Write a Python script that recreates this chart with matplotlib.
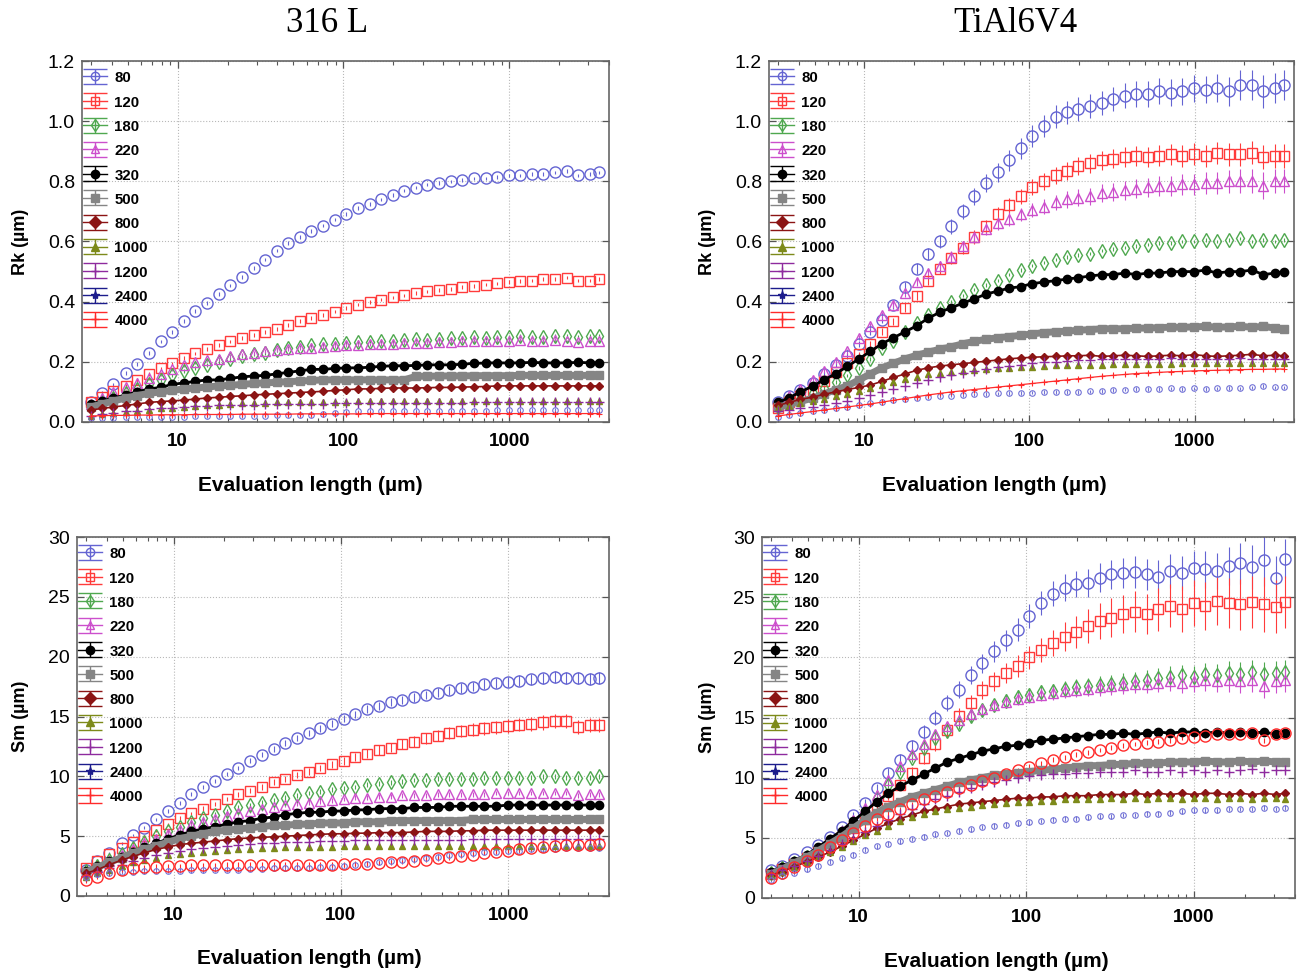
import numpy as np
import matplotlib
matplotlib.use("Agg")
import matplotlib.pyplot as plt
from matplotlib.lines import Line2D
from matplotlib.collections import LineCollection
from matplotlib.container import ErrorbarContainer
from matplotlib.ticker import FixedLocator, LogLocator, NullFormatter, FuncFormatter

plt.rcParams['font.family'] = ['Liberation Sans', 'DejaVu Sans']

# ---------------- data ----------------
LABELS = ['80', '120', '180', '220', '320', '500', '800', '1000', '1200', '2400', '4000']
X = [3.0, 3.5, 4.1, 4.9, 5.7, 6.7, 7.9, 9.3, 10.9, 12.8, 15.0, 17.7, 20.8, 24.4, 28.7,
     33.7, 39.6, 46.5, 54.6, 64.2, 75.4, 88.6, 104, 122, 144, 169, 198, 233, 274, 321,
     378, 444, 521, 612, 720, 845, 993, 1167, 1371, 1610, 1892, 2223, 2612, 3069, 3500]

# Rk, 316 L
rk316_80 = [0.068,0.097,0.125,0.162,0.193,0.23,0.268,0.30,0.335,0.368, 0.396,0.425,0.454,0.483,0.512,0.54,0.57,0.596,0.615,0.634, 0.653,0.673,0.692,0.711,0.725,0.74,0.754,0.769,0.779,0.789, 0.794,0.80,0.805,0.81,0.81,0.815,0.82,0.82,0.825,0.825, 0.83,0.835,0.82,0.825,0.83]
rk316_120 = [0.065,0.083,0.102,0.121,0.14,0.16,0.178,0.195,0.213,0.228, 0.243,0.255,0.268,0.279,0.289,0.299,0.31,0.323,0.335,0.346, 0.356,0.367,0.379,0.39,0.399,0.407,0.414,0.421,0.428,0.434, 0.438,0.443,0.448,0.453,0.457,0.461,0.465,0.468,0.47,0.476, 0.475,0.48,0.47,0.47,0.475]
rk316_180 = [0.05,0.065,0.08,0.095,0.11,0.125,0.14,0.155,0.17,0.18, 0.19,0.20,0.21,0.22,0.225,0.23,0.24,0.245,0.25,0.255, 0.258,0.26,0.262,0.265,0.267,0.27,0.27,0.272,0.275,0.274, 0.276,0.278,0.28,0.282,0.28,0.282,0.283,0.285,0.284,0.283, 0.286,0.285,0.284,0.285,0.287]
rk316_220 = [0.06,0.08,0.10,0.115,0.13,0.145,0.16,0.175,0.19,0.20, 0.205,0.21,0.22,0.225,0.23,0.235,0.24,0.243,0.245,0.247, 0.25,0.252,0.255,0.256,0.258,0.26,0.26,0.262,0.264,0.262, 0.265,0.266,0.268,0.27,0.268,0.27,0.27,0.272,0.27,0.27, 0.272,0.268,0.265,0.27,0.27]
rk316_320 = [0.06,0.07,0.08,0.09,0.10,0.11,0.115,0.125,0.13,0.135, 0.14,0.14,0.145,0.15,0.153,0.155,0.16,0.165,0.17,0.175, 0.175,0.178,0.18,0.18,0.182,0.185,0.187,0.187,0.188,0.19, 0.19,0.19,0.192,0.195,0.196,0.197,0.196,0.197,0.198,0.197, 0.196,0.197,0.198,0.197,0.197]
rk316_500 = [0.05,0.06,0.07,0.08,0.088,0.095,0.10,0.105,0.11,0.113, 0.116,0.12,0.122,0.125,0.128,0.13,0.132,0.134,0.136,0.138, 0.14,0.14,0.14,0.14,0.14,0.14,0.14,0.14,0.152,0.152, 0.153,0.153,0.153,0.154,0.154,0.154,0.154,0.155,0.155,0.155, 0.155,0.155,0.155,0.155,0.155]
rk316_800 = [0.04,0.045,0.05,0.055,0.06,0.065,0.068,0.07,0.073,0.076, 0.08,0.082,0.085,0.087,0.09,0.092,0.094,0.096,0.098,0.10, 0.102,0.105,0.107,0.11,0.11,0.112,0.113,0.113,0.113,0.114, 0.115,0.115,0.116,0.117,0.118,0.12,0.12,0.12,0.12,0.12, 0.12,0.12,0.12,0.12,0.12]
rk316_1000 = [0.02,0.025,0.03,0.033,0.037,0.04,0.045,0.048,0.05,0.052, 0.055,0.057,0.06,0.062,0.063,0.064,0.065,0.066,0.067,0.067, 0.068,0.068,0.068,0.069,0.069,0.069,0.07,0.07,0.07,0.07, 0.07,0.07,0.07,0.07,0.07,0.07,0.07,0.07,0.07,0.07, 0.07,0.07,0.07,0.07,0.07]
rk316_1200 = [0.02,0.025,0.03,0.035,0.038,0.042,0.045,0.047,0.05,0.052, 0.054,0.055,0.056,0.057,0.058,0.059,0.06,0.06,0.06,0.061, 0.061,0.062,0.062,0.062,0.063,0.063,0.063,0.063,0.064,0.064, 0.064,0.064,0.064,0.065,0.065,0.065,0.065,0.065,0.065,0.065, 0.065,0.065,0.065,0.065,0.065]
rk316_2400 = [0.012,0.013,0.014,0.015,0.016,0.017,0.017,0.018,0.018,0.019, 0.019,0.02,0.02,0.02,0.021,0.021,0.022,0.022,0.023,0.024, 0.026,0.03,0.034,0.035,0.036,0.036,0.036,0.037,0.037,0.037, 0.037,0.038,0.038,0.038,0.038,0.039,0.039,0.039,0.039,0.04, 0.04,0.04,0.04,0.04,0.04]
rk316_4000 = [0.02,0.021,0.022,0.022,0.023,0.023,0.024,0.024,0.024,0.025, 0.025,0.025,0.025,0.026,0.026,0.026,0.026,0.026,0.027,0.027, 0.027,0.027,0.027,0.027,0.028,0.028,0.028,0.028,0.028,0.028, 0.028,0.028,0.028,0.028,0.028,0.028,0.028,0.028,0.028,0.028, 0.028,0.028,0.028,0.028,0.028]

# Rk, TiAl6V4
rkti_80 = [0.065,0.085,0.105,0.13,0.16,0.19,0.22,0.26,0.30,0.34, 0.39,0.45,0.51,0.56,0.60,0.65,0.70,0.75,0.795,0.83, 0.87,0.91,0.95,0.985,1.015,1.03,1.04,1.05,1.06,1.075, 1.085,1.09,1.09,1.10,1.095,1.10,1.11,1.105,1.11,1.10, 1.12,1.12,1.10,1.11,1.12]
rkti_120 = [0.047,0.065,0.085,0.105,0.135,0.165,0.195,0.225,0.26,0.30, 0.335,0.38,0.42,0.47,0.51,0.545,0.58,0.615,0.65,0.69, 0.72,0.75,0.78,0.80,0.82,0.835,0.85,0.86,0.87,0.875, 0.88,0.885,0.88,0.885,0.89,0.885,0.89,0.885,0.895,0.89, 0.89,0.895,0.88,0.885,0.885]
rkti_180 = [0.05,0.063,0.078,0.095,0.113,0.133,0.155,0.18,0.21,0.245, 0.27,0.30,0.33,0.355,0.38,0.40,0.42,0.44,0.455,0.47, 0.49,0.505,0.52,0.53,0.54,0.548,0.555,0.56,0.57,0.575, 0.58,0.585,0.59,0.595,0.595,0.60,0.60,0.605,0.60,0.605, 0.61,0.60,0.605,0.60,0.605]
rkti_220 = [0.06,0.085,0.11,0.14,0.17,0.20,0.235,0.28,0.32,0.355, 0.39,0.43,0.465,0.495,0.52,0.55,0.585,0.615,0.64,0.66, 0.675,0.69,0.705,0.715,0.73,0.74,0.745,0.75,0.76,0.765, 0.77,0.775,0.78,0.785,0.785,0.79,0.79,0.795,0.795,0.80, 0.80,0.80,0.785,0.80,0.80]
rkti_320 = [0.065,0.08,0.10,0.12,0.14,0.16,0.185,0.21,0.235,0.26, 0.28,0.30,0.32,0.345,0.365,0.38,0.395,0.41,0.425,0.435, 0.445,0.45,0.46,0.465,0.47,0.475,0.48,0.485,0.49,0.49, 0.495,0.49,0.495,0.495,0.50,0.50,0.50,0.505,0.495,0.50, 0.50,0.505,0.49,0.495,0.50]
rkti_500 = [0.05,0.058,0.068,0.08,0.093,0.107,0.12,0.14,0.16,0.18, 0.195,0.21,0.222,0.232,0.242,0.25,0.26,0.268,0.275,0.28, 0.284,0.288,0.293,0.297,0.30,0.302,0.305,0.307,0.31,0.31, 0.31,0.312,0.312,0.314,0.315,0.315,0.316,0.318,0.315,0.316, 0.318,0.315,0.318,0.312,0.31]
rkti_800 = [0.055,0.065,0.075,0.083,0.092,0.10,0.108,0.115,0.123,0.135, 0.148,0.16,0.172,0.18,0.186,0.19,0.194,0.198,0.202,0.206, 0.21,0.213,0.215,0.217,0.218,0.22,0.22,0.222,0.218,0.22, 0.222,0.22,0.218,0.22,0.222,0.22,0.224,0.22,0.218,0.22, 0.222,0.225,0.22,0.222,0.22]
rkti_1000 = [0.045,0.053,0.062,0.07,0.078,0.086,0.094,0.103,0.112,0.122, 0.132,0.142,0.15,0.158,0.163,0.167,0.17,0.173,0.176,0.178, 0.18,0.182,0.184,0.186,0.188,0.19,0.19,0.19,0.191,0.192, 0.192,0.193,0.193,0.194,0.194,0.195,0.195,0.195,0.195,0.195, 0.195,0.195,0.195,0.195,0.195]
rkti_1200 = [0.035,0.04,0.045,0.05,0.057,0.063,0.07,0.08,0.09,0.10, 0.11,0.12,0.13,0.14,0.15,0.157,0.163,0.17,0.176,0.182, 0.186,0.19,0.195,0.198,0.20,0.202,0.205,0.207,0.208,0.21, 0.21,0.211,0.21,0.21,0.212,0.21,0.21,0.211,0.21,0.21, 0.212,0.21,0.21,0.211,0.21]
rkti_2400 = [0.018,0.023,0.03,0.035,0.04,0.045,0.05,0.057,0.063,0.068, 0.072,0.076,0.08,0.083,0.086,0.088,0.09,0.092,0.094,0.095, 0.096,0.097,0.098,0.099,0.10,0.10,0.10,0.102,0.104,0.106, 0.108,0.11,0.11,0.11,0.112,0.11,0.112,0.11,0.112,0.114, 0.112,0.115,0.12,0.115,0.115]
rkti_4000 = [0.02,0.025,0.03,0.035,0.04,0.045,0.05,0.055,0.06,0.066, 0.072,0.078,0.084,0.09,0.095,0.10,0.104,0.108,0.112,0.116, 0.12,0.124,0.128,0.132,0.136,0.14,0.144,0.148,0.152,0.155, 0.158,0.161,0.163,0.165,0.167,0.168,0.17,0.171,0.172,0.173, 0.174,0.175,0.175,0.176,0.176]

# Sm, 316 L
sm316_80 = [2.2,2.9,3.6,4.4,5.1,5.7,6.4,7.1,7.8,8.5, 9.1,9.6,10.2,10.7,11.3,11.8,12.3,12.8,13.2,13.6, 14.0,14.4,14.8,15.2,15.6,15.9,16.2,16.4,16.6,16.8, 17.0,17.2,17.4,17.5,17.7,17.8,17.9,18.0,18.1,18.2, 18.3,18.2,18.2,18.1,18.2]
sm316_120 = [2.3,2.9,3.5,4.0,4.5,5.0,5.5,6.0,6.5,6.9, 7.3,7.7,8.1,8.5,8.8,9.1,9.5,9.8,10.1,10.4, 10.7,11.0,11.3,11.6,11.9,12.2,12.4,12.7,12.9,13.2, 13.4,13.6,13.8,13.9,14.0,14.1,14.2,14.3,14.4,14.5, 14.6,14.6,14.1,14.3,14.3]
sm316_180 = [2.1,2.5,3.0,3.5,4.0,4.5,5.0,5.4,5.8,6.2, 6.5,6.8,7.1,7.4,7.6,7.8,8.0,8.2,8.4,8.6, 8.7,8.9,9.0,9.1,9.3,9.4,9.5,9.6,9.7,9.7, 9.8,9.8,9.8,9.8,9.9,9.9,9.9,9.9,9.9,10.0, 10.0,9.9,9.9,9.9,10.0]
sm316_220 = [2.0,2.4,2.9,3.4,3.9,4.4,4.8,5.2,5.5,5.9, 6.2,6.4,6.7,6.9,7.1,7.3,7.4,7.6,7.7,7.8, 7.9,8.0,8.1,8.2,8.2,8.3,8.3,8.4,8.4,8.4, 8.5,8.5,8.5,8.5,8.5,8.6,8.6,8.6,8.6,8.6, 8.6,8.6,8.4,8.5,8.5]
sm316_320 = [2.1,2.5,2.9,3.3,3.7,4.1,4.4,4.8,5.1,5.4, 5.6,5.8,6.0,6.2,6.3,6.5,6.6,6.8,6.9,7.0, 7.0,7.1,7.1,7.2,7.2,7.3,7.3,7.3,7.4,7.4, 7.4,7.5,7.5,7.5,7.5,7.5,7.6,7.6,7.6,7.6, 7.6,7.6,7.6,7.6,7.6]
sm316_500 = [2.0,2.4,2.8,3.2,3.6,3.9,4.2,4.5,4.8,5.0, 5.2,5.4,5.5,5.6,5.7,5.8,5.9,5.9,6.0,6.0, 6.1,6.1,6.1,6.2,6.2,6.2,6.3,6.3,6.3,6.3, 6.3,6.3,6.3,6.4,6.4,6.4,6.4,6.4,6.4,6.4, 6.4,6.4,6.4,6.4,6.4]
sm316_800 = [1.9,2.2,2.6,3.0,3.3,3.6,3.9,4.1,4.3,4.4, 4.5,4.6,4.7,4.8,4.85,4.9,4.95,5.0,5.05,5.1, 5.15,5.2,5.2,5.25,5.25,5.3,5.3,5.3,5.35,5.4, 5.4,5.4,5.45,5.45,5.5,5.5,5.5,5.5,5.5,5.5, 5.5,5.5,5.5,5.5,5.5]
sm316_1000 = [1.6,1.9,2.2,2.5,2.8,3.0,3.2,3.4,3.5,3.6, 3.7,3.8,3.85,3.9,3.95,4.0,4.05,4.1,4.1,4.1, 4.1,4.1,4.15,4.15,4.15,4.15,4.2,4.2,4.2,4.2, 4.2,4.2,4.2,4.2,4.2,4.2,4.2,4.2,4.2,4.2, 4.2,4.2,4.2,4.2,4.2]
sm316_1200 = [1.7,2.0,2.3,2.6,2.9,3.2,3.4,3.6,3.8,3.9, 4.0,4.1,4.2,4.3,4.35,4.4,4.45,4.5,4.5,4.55, 4.6,4.6,4.6,4.65,4.65,4.65,4.7,4.7,4.7,4.7, 4.7,4.7,4.7,4.75,4.75,4.75,4.75,4.75,4.75,4.75, 4.75,4.75,4.75,4.75,4.75]
sm316_2400 = [1.6,1.8,1.9,2.0,2.0,2.05,2.1,2.1,2.1,2.15, 2.15,2.2,2.2,2.2,2.25,2.25,2.3,2.3,2.3,2.35, 2.4,2.4,2.5,2.6,2.7,2.8,2.9,3.0,3.1,3.2, 3.3,3.4,3.5,3.6,3.7,3.7,3.8,3.8,3.9,3.9, 3.9,4.0,4.0,4.0,4.0]
sm316_4000 = [1.3,1.6,1.9,2.2,2.3,2.4,2.45,2.5,2.5,2.55, 2.55,2.55,2.6,2.6,2.6,2.6,2.6,2.6,2.6,2.6, 2.6,2.6,2.65,2.7,2.7,2.75,2.8,2.85,2.95,3.05, 3.15,3.25,3.35,3.45,3.6,3.7,3.8,3.9,4.0,4.1, 4.2,4.25,4.3,4.3,4.35]

# Sm, TiAl6V4
smti_80 = [2.3,2.7,3.2,3.8,4.4,5.1,5.9,6.9,7.9,9.1, 10.4,11.5,12.6,13.8,15.0,16.2,17.3,18.5,19.5,20.5, 21.4,22.3,23.4,24.5,25.3,25.8,26.1,26.2,26.6,26.9, 27.0,27.1,26.9,26.7,27.2,27.0,27.4,27.3,27.2,27.6, 27.8,27.5,28.1,26.6,28.2]
smti_120 = [2.0,2.4,2.8,3.3,3.8,4.4,5.1,5.8,6.6,7.5, 8.5,9.4,10.4,11.6,12.8,14.0,15.1,16.2,17.3,18.0, 18.7,19.3,20.0,20.6,21.2,21.7,22.1,22.6,23.0,23.3, 23.6,23.8,23.6,24.0,24.3,24.0,24.5,24.3,24.7,24.5, 24.4,24.6,24.4,24.2,24.6]
smti_180 = [2.1,2.5,2.9,3.4,4.0,4.6,5.3,6.1,7.0,8.3, 9.4,10.5,11.6,12.5,13.3,13.9,14.5,15.1,15.6,16.0, 16.4,16.7,16.9,17.1,17.2,17.4,17.5,17.6,17.7,17.8, 17.9,18.0,18.1,18.3,18.4,18.5,18.4,18.6,18.5,18.7, 18.6,18.8,18.6,18.7,18.8]
smti_220 = [2.1,2.5,2.9,3.5,4.1,4.8,5.6,6.5,7.5,8.6, 9.8,11.0,12.0,12.8,13.6,14.3,14.8,15.3,15.7,16.0, 16.3,16.5,16.7,16.9,17.0,17.2,17.3,17.4,17.5,17.6, 17.7,17.8,17.8,17.9,18.0,17.9,18.0,18.1,18.0,18.1, 18.0,18.1,17.6,18.0,18.1]
smti_320 = [2.2,2.6,3.1,3.6,4.2,4.9,5.6,6.4,7.2,8.0, 8.7,9.3,9.8,10.3,10.8,11.3,11.6,11.9,12.2,12.4, 12.6,12.7,12.9,13.1,13.2,13.3,13.4,13.5,13.6,13.6, 13.7,13.6,13.7,13.8,13.7,13.8,13.8,13.7,13.8,13.7, 13.8,13.7,13.8,13.6,13.7]
smti_500 = [2.0,2.4,2.9,3.4,3.9,4.5,5.1,5.8,6.5,7.1, 7.6,8.0,8.4,8.7,9.0,9.3,9.6,9.8,10.0,10.2, 10.3,10.4,10.5,10.6,10.7,10.8,10.9,11.0,11.0,11.1, 11.1,11.2,11.2,11.2,11.3,11.3,11.3,11.4,11.3,11.3, 11.4,11.3,11.4,11.3,11.3]
smti_800 = [1.9,2.2,2.6,3.0,3.4,3.8,4.3,4.8,5.3,5.8, 6.2,6.6,6.9,7.2,7.4,7.6,7.8,7.9,8.0,8.1, 8.2,8.3,8.3,8.4,8.4,8.5,8.5,8.5,8.6,8.6, 8.6,8.7,8.6,8.7,8.6,8.7,8.6,8.7,8.7,8.6, 8.7,8.6,8.7,8.6,8.7]
smti_1000 = [1.9,2.2,2.6,3.0,3.4,3.8,4.2,4.7,5.2,5.6, 6.0,6.4,6.7,7.0,7.2,7.4,7.5,7.6,7.7,7.8, 7.9,8.0,8.0,8.1,8.1,8.2,8.2,8.2,8.2,8.3, 8.2,8.3,8.2,8.3,8.3,8.2,8.3,8.3,8.2,8.3, 8.3,8.2,8.3,8.3,8.2]
smti_1200 = [2.0,2.3,2.7,3.1,3.5,4.0,4.5,5.0,5.5,6.0, 6.5,7.0,7.4,7.8,8.2,8.5,8.8,9.1,9.4,9.6, 9.8,10.0,10.1,10.2,10.3,10.3,10.4,10.4,10.5,10.5, 10.5,10.6,10.5,10.5,10.6,10.5,10.6,10.5,10.6,10.5, 10.6,10.7,10.5,10.6,10.6]
smti_2400 = [1.5,1.8,2.1,2.4,2.7,3.0,3.3,3.6,4.0,4.3, 4.5,4.7,4.9,5.1,5.3,5.4,5.6,5.7,5.9,6.0, 6.1,6.2,6.3,6.4,6.5,6.6,6.6,6.7,6.8,6.8, 6.9,6.9,7.0,7.0,7.1,7.2,7.3,7.3,7.3,7.4, 7.4,7.4,7.5,7.4,7.5]
smti_4000 = [1.7,2.1,2.6,3.1,3.6,4.2,4.8,5.4,6.0,6.6, 7.0,7.4,7.8,8.2,8.5,8.8,9.1,9.4,9.7,10.0, 10.3,10.6,10.9,11.2,11.5,11.7,11.9,12.1,12.3,12.5, 12.7,12.8,12.9,13.0,13.1,13.3,13.4,13.5,13.6,13.6, 13.6,13.7,13.1,13.6,13.7]

# error bars (standard deviations)
err_rkti_80 = [0.005,0.005,0.006,0.006,0.007,0.008,0.009,0.010,0.011,0.012, 0.014,0.016,0.018,0.020,0.022,0.024,0.026,0.028,0.030,0.032, 0.034,0.035,0.036,0.037,0.038,0.038,0.039,0.040,0.040,0.040, 0.041,0.042,0.042,0.043,0.044,0.045,0.045,0.046,0.047,0.048, 0.050,0.050,0.055,0.050,0.050]
err_rkti_120 = [0.004,0.004,0.005,0.005,0.006,0.007,0.008,0.009,0.010,0.011, 0.012,0.014,0.015,0.016,0.018,0.019,0.020,0.022,0.023,0.024, 0.025,0.026,0.027,0.028,0.029,0.030,0.030,0.031,0.032,0.032, 0.033,0.034,0.034,0.035,0.035,0.036,0.036,0.037,0.037,0.038, 0.038,0.039,0.040,0.040,0.040]
err_rkti_220 = [0.004,0.004,0.005,0.005,0.006,0.007,0.008,0.009,0.010,0.011, 0.012,0.013,0.014,0.015,0.016,0.017,0.018,0.019,0.020,0.021, 0.022,0.023,0.024,0.025,0.026,0.027,0.028,0.029,0.030,0.030, 0.031,0.032,0.032,0.033,0.034,0.035,0.035,0.036,0.037,0.038, 0.040,0.040,0.045,0.040,0.040]
err_sm316_80 = [0.1,0.1,0.1,0.1,0.12,0.12,0.14,0.14,0.16,0.16, 0.18,0.18,0.2,0.2,0.22,0.22,0.24,0.24,0.26,0.26, 0.28,0.28,0.3,0.3,0.32,0.32,0.34,0.34,0.36,0.36, 0.38,0.38,0.4,0.4,0.42,0.42,0.44,0.44,0.46,0.46, 0.48,0.5,0.5,0.5,0.5]
err_sm316_120 = [0.1,0.1,0.1,0.1,0.12,0.12,0.14,0.14,0.16,0.16, 0.18,0.18,0.2,0.2,0.22,0.22,0.24,0.24,0.26,0.26, 0.28,0.3,0.32,0.34,0.36,0.38,0.4,0.42,0.44,0.46, 0.48,0.5,0.5,0.52,0.52,0.55,0.55,0.55,0.6,0.6, 0.6,0.6,0.6,0.6,0.6]
err_smti_80 = [0.1,0.1,0.12,0.14,0.16,0.18,0.2,0.25,0.3,0.35, 0.4,0.45,0.5,0.55,0.6,0.65,0.7,0.75,0.8,0.85, 0.9,0.95,1.0,1.0,1.05,1.1,1.1,1.15,1.2,1.2, 1.25,1.3,1.3,1.35,1.4,1.4,1.45,1.5,1.5,1.6, 1.7,1.8,2.2,1.8,1.6]
err_smti_120 = [0.1,0.1,0.12,0.14,0.16,0.18,0.2,0.22,0.25,0.3, 0.35,0.4,0.45,0.5,0.55,0.6,0.65,0.7,0.75,0.8, 0.85,0.9,0.95,1.0,1.1,1.2,1.3,1.4,1.5,1.6, 1.6,1.7,1.7,1.8,1.8,1.9,1.9,2.0,2.0,2.1, 2.1,2.2,2.3,2.2,2.2]
err_smti_180 = [0.1,0.1,0.1,0.12,0.14,0.16,0.18,0.2,0.22,0.25, 0.28,0.3,0.32,0.35,0.38,0.4,0.42,0.45,0.48,0.5, 0.52,0.55,0.58,0.6,0.62,0.65,0.68,0.7,0.72,0.75, 0.78,0.8,0.82,0.85,0.88,0.9,0.92,0.95,0.98,1.0, 1.0,1.0,1.0,1.0,1.0]
err_smti_220 = [0.1,0.1,0.1,0.12,0.13,0.15,0.17,0.19,0.21,0.23, 0.25,0.28,0.3,0.32,0.34,0.36,0.38,0.4,0.42,0.45, 0.48,0.5,0.52,0.55,0.58,0.6,0.62,0.65,0.68,0.7, 0.72,0.75,0.78,0.8,0.82,0.85,0.88,0.9,0.92,0.95, 0.95,1.0,1.0,1.0,1.0]
ERR_RK_DEFAULT = 0.006
ERR_SM_DEFAULT = 0.2

# ---------------- styles ----------------
C = {'80': '#6464d2', '120': '#ff3b3b', '180': '#4fa84f', '220': '#cc4fcc',
     '320': '#000000', '500': '#858585', '800': '#8b1414', '1000': '#7d8a1a',
     '1200': '#8e2a9e', '2400': '#7272d6', '4000': '#ff2a2a'}

DATA_STYLE = {
    '80':   dict(marker='o', mfc='none', ms=8.0, mew=1.0, ls='none'),
    '120':  dict(marker='s', mfc='none', ms=7.0, mew=1.0, ls='none'),
    '180':  dict(marker='d', mfc='none', ms=7.5, mew=1.0, ls='none'),
    '220':  dict(marker='^', mfc='none', ms=7.0, mew=1.0, ls='none'),
    '320':  dict(marker='o', ms=6.0, ls='-', lw=2.0),
    '500':  dict(marker='s', ms=5.5, ls='-', lw=5.0),
    '800':  dict(marker='D', ms=4.5, ls='-', lw=1.2),
    '1000': dict(marker='^', ms=4.5, ls='none'),
    '1200': dict(marker='+', ms=6.5, mew=1.0, ls='none'),
    '2400': dict(marker='o', mfc='none', ms=4.0, mew=0.8, ls='none'),
    '4000': dict(marker='+', ms=4.0, mew=0.8, ls='-', lw=0.9),
}
SM_4000_STYLE = dict(marker='o', mfc='none', ms=8.0, mew=1.0, ls='none')

LEG_STYLE = {
    '80': ('#6464d2', 'o', 'none'), '120': ('#ff3b3b', 's', 'none'),
    '180': ('#4fa84f', 'd', 'none'), '220': ('#cc4fcc', '^', 'none'),
    '320': ('#000000', 'o', None), '500': ('#858585', 's', None),
    '800': ('#8b1414', 'D', None), '1000': ('#7d8a1a', '^', None),
    '1200': ('#8e2a9e', '+', None), '2400': ('#1c1c8c', '*', None),
    '4000': ('#ff2a2a', '+', None),
}


def legend_handle(lab):
    col, mk, mfc = LEG_STYLE[lab]
    line = Line2D([], [], color=col, marker=mk, mfc=(col if mfc is None else mfc),
                  mec=col, ms=6, mew=1.0, ls='-', lw=1.0)
    cap = Line2D([], [], color=col, marker='_', ms=17, mew=1.0, ls='none')
    bar = LineCollection([], colors=col, linewidths=1.0)
    return ErrorbarContainer((line, (cap, cap), (bar,)), has_xerr=False,
                             has_yerr=True, label=lab)


def draw_panel(ax, series, errs, default_err, sm):
    for lab, y in zip(LABELS, series):
        st = dict(DATA_STYLE[lab])
        if sm and lab == '4000':
            st = dict(SM_4000_STYLE)
        e = errs.get(lab, default_err)
        ax.errorbar(X, y, yerr=e, color=C[lab], ecolor=C[lab], elinewidth=0.8,
                    capsize=0, **st)


def style_axes(ax, ylim, yticks, yfmt, ylabel, ylab_x, xlab_x, xlab_y):
    ax.set_xscale('log')
    ax.set_xlim(2.65, 4000)
    ax.set_ylim(*ylim)
    ax.set_yticks(yticks)
    ax.yaxis.set_major_formatter(FuncFormatter(yfmt))
    ax.xaxis.set_major_locator(FixedLocator([10, 100, 1000]))
    ax.xaxis.set_major_formatter(FuncFormatter(lambda v, p: '%d' % int(round(v))))
    ax.xaxis.set_minor_locator(LogLocator(base=10, subs=np.arange(2, 10) * 1.0, numticks=20))
    ax.xaxis.set_minor_formatter(NullFormatter())
    ax.tick_params(which='both', direction='in', top=True, right=True, color='#555555')
    ax.tick_params(which='major', length=5, width=0.9)
    ax.tick_params(which='minor', length=3, width=0.8)
    ax.tick_params(axis='y', labelsize=14, pad=5)
    ax.tick_params(axis='x', labelsize=13.5, pad=8)
    for t in ax.get_xticklabels():
        t.set_fontweight('bold')
    ax.grid(True, which='major', ls=':', color='#b8b8b8', lw=0.8)
    for sp in ax.spines.values():
        sp.set_color('#666666')
        sp.set_linewidth(1.2)
    ax.set_xlabel('Evaluation length (µm)', fontsize=15, fontweight='bold',
                  va='center', ha='center')
    ax.xaxis.set_label_coords(xlab_x, xlab_y)
    ax.set_ylabel(ylabel, fontsize=13, fontweight='bold', va='center', ha='center')
    ax.yaxis.set_label_coords(ylab_x, 0.5)
    ax.legend(handles=[legend_handle(l) for l in LABELS], loc='upper left',
              bbox_to_anchor=(-0.004, 0.982), frameon=False, borderaxespad=0.0,
              borderpad=0.2, handlelength=1.6, handleheight=1.0,
              handletextpad=0.5, labelspacing=0.63,
              prop={'size': 10.8, 'weight': 'bold'})


W, H = 1297, 975
fig = plt.figure(figsize=(W / 100, H / 100), dpi=100)
fig.patch.set_facecolor('white')


def add_ax(x0, y0, x1, y1):
    return fig.add_axes([x0 / W, 1 - y1 / H, (x1 - x0) / W, (y1 - y0) / H])


ax_tl = add_ax(82, 61, 609, 422)
ax_tr = add_ax(769, 61, 1294, 422)
ax_bl = add_ax(77, 537, 609, 896)
ax_br = add_ax(762, 537, 1295, 898)

RK316 = [rk316_80, rk316_120, rk316_180, rk316_220, rk316_320, rk316_500, rk316_800,
         rk316_1000, rk316_1200, rk316_2400, rk316_4000]
RKTI = [rkti_80, rkti_120, rkti_180, rkti_220, rkti_320, rkti_500, rkti_800,
        rkti_1000, rkti_1200, rkti_2400, rkti_4000]
SM316 = [sm316_80, sm316_120, sm316_180, sm316_220, sm316_320, sm316_500, sm316_800,
         sm316_1000, sm316_1200, sm316_2400, sm316_4000]
SMTI = [smti_80, smti_120, smti_180, smti_220, smti_320, smti_500, smti_800,
        smti_1000, smti_1200, smti_2400, smti_4000]

draw_panel(ax_tl, RK316, {}, ERR_RK_DEFAULT, False)
draw_panel(ax_tr, RKTI, {'80': err_rkti_80, '120': err_rkti_120, '220': err_rkti_220},
           ERR_RK_DEFAULT, False)
draw_panel(ax_bl, SM316, {'80': err_sm316_80, '120': err_sm316_120}, ERR_SM_DEFAULT, True)
draw_panel(ax_br, SMTI, {'80': err_smti_80, '120': err_smti_120, '180': err_smti_180,
                         '220': err_smti_220}, ERR_SM_DEFAULT, True)

rk_fmt = lambda v, p: '%.1f' % v
sm_fmt = lambda v, p: '%d' % int(round(v))
rk_ticks = [0.0, 0.2, 0.4, 0.6, 0.8, 1.0, 1.2]
sm_ticks = [0, 5, 10, 15, 20, 25, 30]

style_axes(ax_tl, (0, 1.2), rk_ticks, rk_fmt, 'Rk (µm)', -0.1176, 0.433, -0.177)
style_axes(ax_tr, (0, 1.2), rk_ticks, rk_fmt, 'Rk (µm)', -0.118, 0.43, -0.177)
style_axes(ax_bl, (0, 30), sm_ticks, sm_fmt, 'Sm (µm)', -0.107, 0.436, -0.173)
style_axes(ax_br, (0, 30), sm_ticks, sm_fmt, 'Sm (µm)', -0.103, 0.439, -0.177)

fig.text(327 / W, 1 - 23 / H, '316 L', family='Liberation Serif', fontsize=25,
         ha='center', va='center')
fig.text(1015 / W, 1 - 23 / H, 'TiAl6V4', family='Liberation Serif', fontsize=25,
         ha='center', va='center')

fig.savefig('out.png', dpi=100, facecolor='white')
